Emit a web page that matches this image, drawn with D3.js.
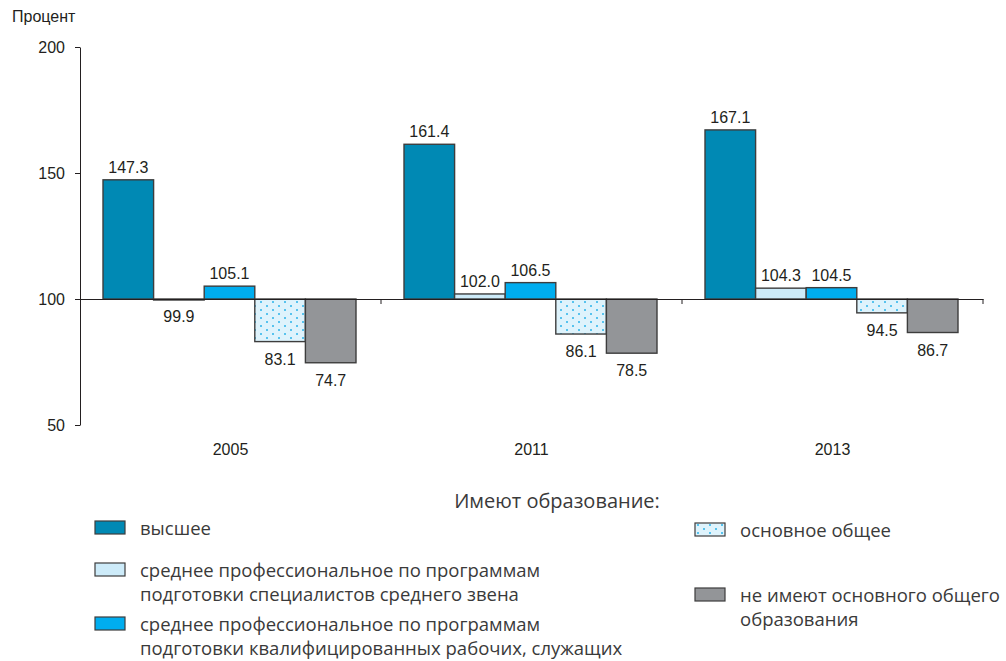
<!DOCTYPE html>
<html>
<head>
<meta charset="utf-8">
<script src="https://cdn.jsdelivr.net/npm/d3@7"></script>
<style>
  body { margin: 0; background: #fff; }
  svg { display: block; }
  .chart text { font-family: "Liberation Sans", Arial, sans-serif; font-size: 16px; fill: #231f20; }
  .legend text { font-family: "Open Sans", "Noto Sans", sans-serif; font-size: 18.5px; fill: #3a3a3a; }
</style>
</head>
<body>
<div id="vis"></div>
<script>
var years = ['2005', '2011', '2013'];
var higher = [147.3, 161.4, 167.1];
var midSpec = [99.9, 102.0, 104.3];
var midWork = [105.1, 106.5, 104.5];
var basicGen = [83.1, 86.1, 94.5];
var noBasic = [74.7, 78.5, 86.7];
var yTicks = [50, 100, 150, 200];
var seriesKeys = ['higher', 'midSpec', 'midWork', 'basicGen', 'noBasic'];
var seriesValues = [higher, midSpec, midWork, basicGen, noBasic];
var legendLabels = [
  ['высшее'],
  ['среднее профессиональное по программам', 'подготовки специалистов среднего звена'],
  ['среднее профессиональное по программам', 'подготовки квалифицированных рабочих, служащих'],
  ['основное общее'],
  ['не имеют основного общего', 'образования']
];

var width = 1006;
var height = 661;
var baseValue = 100;

var fills = {
  higher: '#0089b4',
  midSpec: '#cdebf9',
  midWork: '#00adef',
  basicGen: 'url(#dots)',
  noBasic: '#939598'
};

var svg = d3.select('#vis').append('svg')
  .attr('width', width)
  .attr('height', height);

var defs = svg.append('defs');
var pat = defs.append('pattern')
  .attr('id', 'dots')
  .attr('patternUnits', 'userSpaceOnUse')
  .attr('width', 12)
  .attr('height', 8);
pat.append('rect').attr('width', 12).attr('height', 8).attr('fill', '#def3fc');
pat.append('circle').attr('cx', 3).attr('cy', 2).attr('r', 1).attr('fill', '#2ab3ea');
pat.append('circle').attr('cx', 9).attr('cy', 6).attr('r', 1).attr('fill', '#2ab3ea');

var chart = svg.append('g').attr('class', 'chart');

var y = d3.scaleLinear().domain([50, 200]).range([425, 47]);
var x = d3.scaleBand().domain(years).range([80, 983]);
var xInner = d3.scaleBand().domain(seriesKeys)
  .range([23, x.bandwidth() - 25]);

// y axis
var yAxis = chart.append('g')
  .attr('transform', 'translate(80,0)')
  .call(d3.axisLeft(y).tickValues(yTicks).tickSize(5).tickPadding(10).tickSizeOuter(0));
yAxis.select('.domain').attr('stroke', '#231f20');
yAxis.selectAll('.tick line').attr('stroke', '#231f20');
yAxis.selectAll('text').attr('font-size', 16).attr('font-family', null);

chart.append('text')
  .attr('x', 12)
  .attr('y', 22)
  .style('font-size', '16px')
  .text('Процент');

// bars
var rows = [];
years.forEach(function (yr, i) {
  seriesKeys.forEach(function (k, j) {
    rows.push({ year: yr, key: k, value: seriesValues[j][i] });
  });
});

var groups = chart.selectAll('.bar')
  .data(rows)
  .enter().append('g')
  .attr('class', 'bar');

groups.append('rect')
  .attr('x', function (d) { return x(d.year) + xInner(d.key); })
  .attr('width', xInner.bandwidth())
  .attr('y', function (d) { return y(Math.max(d.value, baseValue)); })
  .attr('height', function (d) { return Math.max(Math.abs(y(d.value) - y(baseValue)), 1); })
  .attr('fill', function (d) { return fills[d.key]; })
  .attr('stroke', '#3d3d3d')
  .attr('stroke-width', 1.4);

groups.append('text')
  .attr('x', function (d) { return x(d.year) + xInner(d.key) + xInner.bandwidth() / 2; })
  .attr('y', function (d) {
    return d.value >= baseValue ? y(d.value) - 7 : y(d.value) + 23;
  })
  .attr('text-anchor', 'middle')
  .text(function (d) { return d.value.toFixed(1); });

// base line at 100 and category separators
var xAxis = chart.append('g')
  .attr('transform', 'translate(0,' + y(baseValue) + ')')
  .call(d3.axisBottom(x).tickSize(0).tickPadding(145).tickSizeOuter(0));
xAxis.select('.domain').attr('stroke', '#231f20');
xAxis.selectAll('text').attr('font-size', 16).attr('font-family', null);

chart.selectAll('.sep')
  .data(years)
  .enter().append('line')
  .attr('class', 'sep')
  .attr('x1', function (d) { return x(d) + x.bandwidth(); })
  .attr('x2', function (d) { return x(d) + x.bandwidth(); })
  .attr('y1', y(baseValue))
  .attr('y2', y(baseValue) + 5)
  .attr('stroke', '#231f20');

// legend
var legend = svg.append('g').attr('class', 'legend');

legend.append('text')
  .attr('x', 557)
  .attr('y', 508)
  .attr('text-anchor', 'middle')
  .style('font-size', '20px')
  .text('Имеют образование:');

var legendPos = [
  { x: 95, y: 521 },
  { x: 95, y: 563 },
  { x: 95, y: 617 },
  { x: 695, y: 523 },
  { x: 695, y: 588 }
];

var items = legend.selectAll('.item')
  .data(seriesKeys)
  .enter().append('g')
  .attr('class', 'item')
  .attr('transform', function (d, i) { return 'translate(' + legendPos[i].x + ',' + legendPos[i].y + ')'; });

items.append('rect')
  .attr('width', 30)
  .attr('height', 13)
  .attr('fill', function (d) { return fills[d]; })
  .attr('stroke', '#3d3d3d')
  .attr('stroke-width', 1.2);

items.each(function (d, i) {
  var t = d3.select(this).append('text')
    .attr('x', 45)
    .attr('y', 14);
  legendLabels[i].forEach(function (line, k) {
    t.append('tspan')
      .attr('x', 45)
      .attr('dy', k === 0 ? 0 : 23.5)
      .text(line);
  });
});
</script>
</body>
</html>
